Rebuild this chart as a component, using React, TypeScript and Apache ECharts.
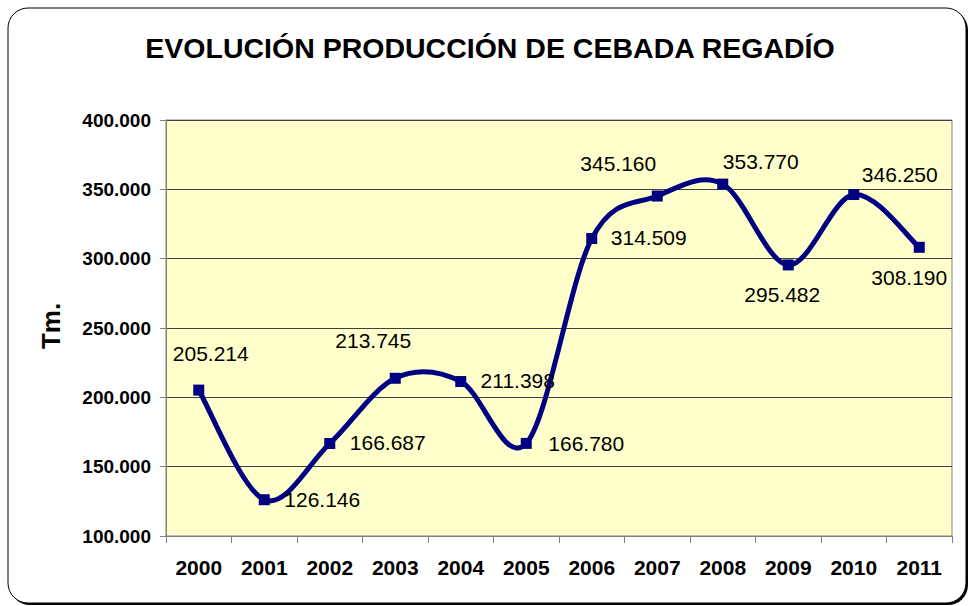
import React, { useEffect, useRef } from "react";
import * as echarts from "echarts";

const years = ["2000", "2001", "2002", "2003", "2004", "2005", "2006", "2007", "2008", "2009", "2010", "2011"];
const production = [205214, 126146, 166687, 213745, 211398, 166780, 314509, 345160, 353770, 295482, 346250, 308190];
const yTicks = { min: 100000, max: 400000, interval: 50000 };
const labelOffsets: [number, number][] = [
  [12, -37], [58, 0], [58, -1], [-22, -38], [57, -1], [60, 0],
  [57, -1], [-39, -33], [38, -23], [-6, 30], [46, -20], [-10, 30],
];
const title = "EVOLUCIÓN PRODUCCIÓN DE CEBADA REGADÍO";
const yName = "Tm.";

const fmt = (v: number) => {
  const t = Math.floor(v / 1000);
  const r = Math.round(v % 1000);
  return `${t}.${String(r).padStart(3, "0")}`;
};

const FONT = "'Liberation Sans', Arial, sans-serif";
const NAVY = "#000080";

export default function App() {
  const ref = useRef<HTMLDivElement>(null);
  useEffect(() => {
    document.body.style.margin = "0";
    const chart = echarts.init(ref.current!, null, { renderer: "svg" });
    const n = production.length;
    chart.setOption({
      animation: false,
      backgroundColor: "#ffffff",
      title: {
        text: title,
        left: 490,
        textAlign: "center",
        top: 33,
        padding: 0,
        textStyle: { fontFamily: FONT, fontSize: 28.5, fontWeight: "bold", color: "#000" },
      },
      graphic: [
        {
          type: "rect",
          z: -10,
          silent: true,
          shape: { x: 10, y: 10, width: 958, height: 595, r: 20 },
          style: { fill: "#000" },
        },
        {
          type: "rect",
          z: -9,
          silent: true,
          shape: { x: 8, y: 8, width: 958, height: 595, r: 20 },
          style: { fill: "#fff", stroke: "#000", lineWidth: 1 },
        },
        {
          type: "text",
          x: 51,
          y: 326,
          rotation: Math.PI / 2,
          style: {
            text: yName,
            fontFamily: FONT,
            fontSize: 26,
            fontWeight: "bold",
            fill: "#000",
            align: "center",
            verticalAlign: "middle",
          },
        },
      ],
      grid: {
        left: 166,
        right: 17,
        top: 120,
        bottom: 70,
        show: true,
        backgroundColor: "#FFFFCC",
        borderColor: "#808080",
        borderWidth: 1,
      },
      xAxis: {
        type: "category",
        data: years,
        boundaryGap: true,
        axisLine: { show: true, lineStyle: { color: "#808080", width: 1 } },
        axisTick: { show: true, length: 7, lineStyle: { color: "#808080" } },
        axisLabel: {
          margin: 21,
          fontFamily: FONT,
          fontSize: 21,
          fontWeight: "bold",
          color: "#000",
        },
        splitLine: { show: false },
      },
      yAxis: {
        type: "value",
        min: yTicks.min,
        max: yTicks.max,
        interval: yTicks.interval,
        axisLine: { show: true, lineStyle: { color: "#808080", width: 1 } },
        axisTick: { show: true, length: 6, lineStyle: { color: "#808080" } },
        axisLabel: {
          margin: 15,
          fontFamily: FONT,
          fontSize: 19,
          fontWeight: "bold",
          color: "#000",
          formatter: (v: number) => fmt(v),
        },
        splitLine: { show: true, lineStyle: { color: "#404040", width: 1 } },
      },
      series: [
        {
          type: "custom",
          z: 1,
          silent: true,
          data: production.map((v, i) => [i, v]),
          encode: { x: 0, y: 1 },
          renderItem: (params: any, api: any) => {
            const i = params.dataIndex;
            if (i >= n - 1) return null;
            const P = (k: number) => {
              const kk = Math.max(0, Math.min(n - 1, k));
              return api.coord([kk, production[kk]]);
            };
            const p0 = P(i - 1);
            const p1 = P(i);
            const p2 = P(i + 1);
            const p3 = P(i + 2);
            const c1 = [p1[0] + (p2[0] - p0[0]) / 6, p1[1] + (p2[1] - p0[1]) / 6];
            const c2 = [p2[0] - (p3[0] - p1[0]) / 6, p2[1] - (p3[1] - p1[1]) / 6];
            const d = `M${p1[0]},${p1[1]} C${c1[0]},${c1[1]} ${c2[0]},${c2[1]} ${p2[0]},${p2[1]}`;
            return {
              type: "path",
              shape: { pathData: d },
              style: { fill: "none", stroke: NAVY, lineWidth: 5, lineCap: "round", lineJoin: "round" },
            };
          },
        },
        {
          type: "line",
          z: 3,
          data: production.map((v, i) => ({
            value: v,
            label: { offset: labelOffsets[i] },
          })),
          smooth: false,
          symbol: "rect",
          symbolSize: 11,
          itemStyle: { color: NAVY },
          lineStyle: { color: NAVY, width: 0, opacity: 0 },
          label: {
            show: true,
            position: "inside",
            align: "center",
            verticalAlign: "middle",
            fontFamily: FONT,
            fontSize: 21,
            color: "#000",
            formatter: (p: any) => fmt(p.value),
          },
        },
      ],
    });
    return () => chart.dispose();
  }, []);
  return <div ref={ref} style={{ width: 969, height: 606 }} />;
}
